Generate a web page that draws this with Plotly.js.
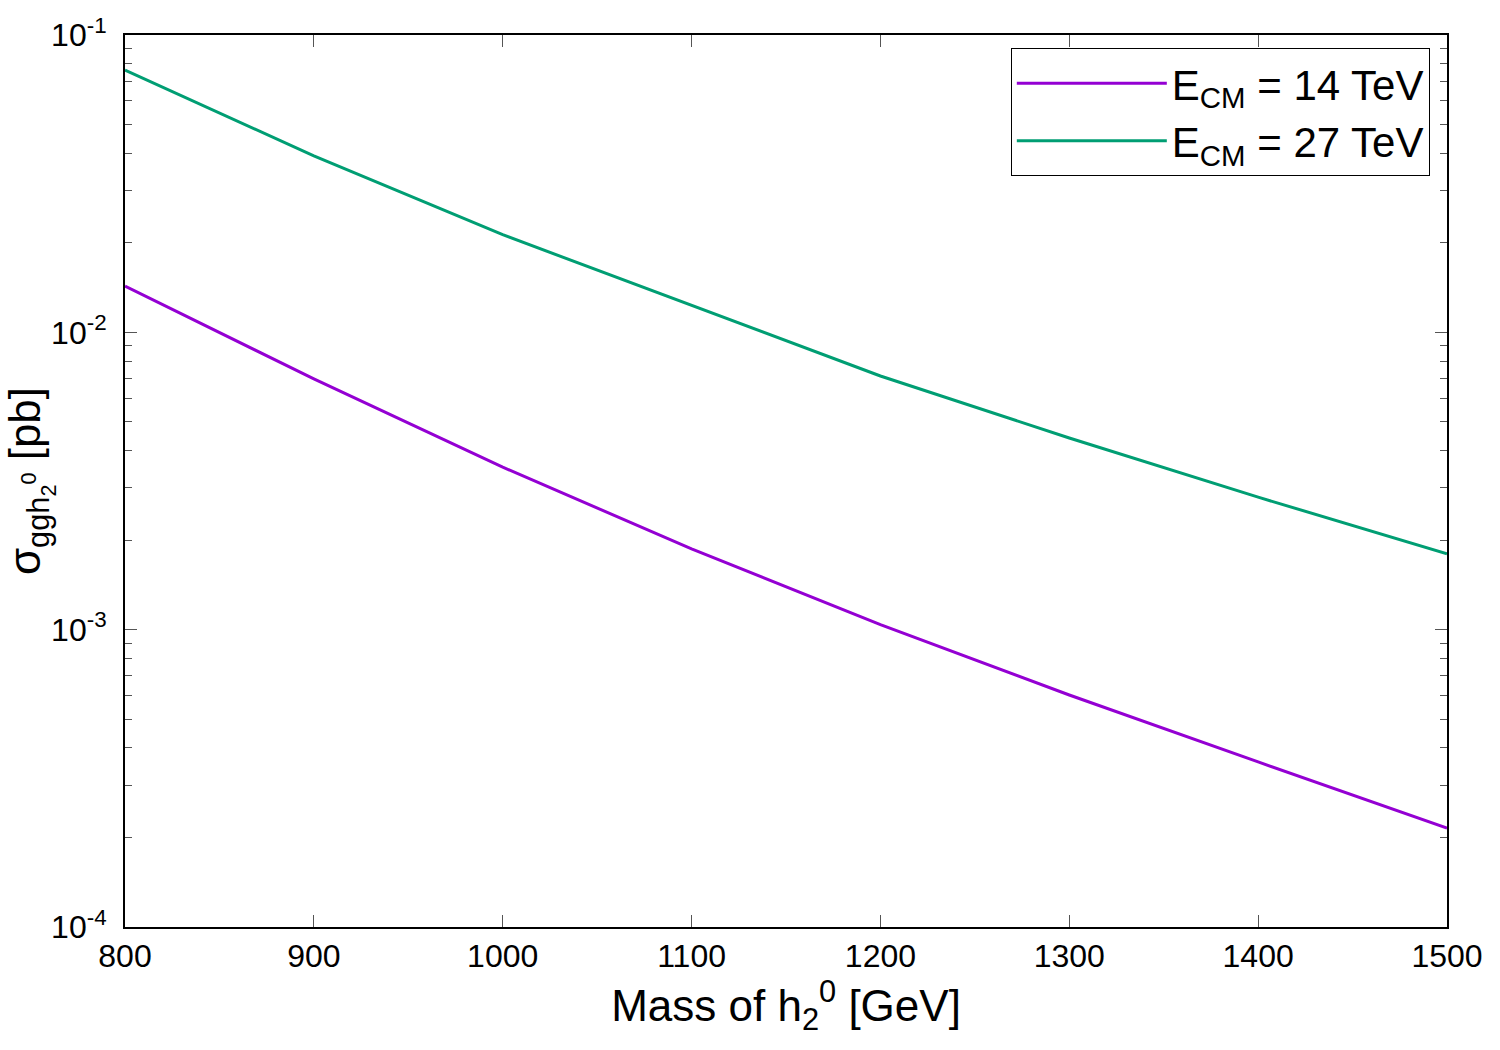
<!DOCTYPE html>
<html>
<head>
<meta charset="utf-8">
<script src="https://cdn.plot.ly/plotly-3.0.1.min.js"></script>
<style>
  html, body { margin: 0; padding: 0; background: #fff; }
  #graph { width: 1500px; height: 1050px; }
</style>
</head>
<body>
<div id="graph"></div>
<script>
// h2^0 mass points [GeV]
const mass = [800, 900, 1000, 1100, 1200, 1300, 1400, 1500];

// cross sections [pb]
const sigma14 = [0.0143, 0.00697, 0.00352, 0.00187, 0.00104, 0.000603, 0.000359, 0.000215];
const sigma27 = [0.0762, 0.0392, 0.0213, 0.01236, 0.00713, 0.00441, 0.00279, 0.00180];

const yTickVals = [1e-4, 1e-3, 1e-2, 1e-1];
const yTickText = ['10<sup>-4</sup>', '10<sup>-3</sup>', '10<sup>-2</sup>', '10<sup>-1</sup>'];

const traces = [
  {
    x: mass,
    y: sigma14,
    mode: 'lines',
    type: 'scatter',
    name: 'E<sub>CM</sub> = 14 TeV',
    line: { color: '#9400D3', width: 3 },
  },
  {
    x: mass,
    y: sigma27,
    mode: 'lines',
    type: 'scatter',
    name: 'E<sub>CM</sub> = 27 TeV',
    line: { color: '#009E73', width: 3 },
  },
];

const layout = {
  width: 1500,
  height: 1050,
  margin: { l: 125, r: 53, t: 35, b: 123 },
  paper_bgcolor: '#ffffff',
  plot_bgcolor: '#ffffff',
  font: { family: 'Liberation Sans, Arial, sans-serif', size: 32, color: '#000' },
  showlegend: true,
  legend: {
    x: 0.987,
    y: 0.985,
    xanchor: 'right',
    yanchor: 'top',
    bgcolor: '#ffffff',
    bordercolor: '#000',
    borderwidth: 1,
    font: { size: 42 },
    itemwidth: 150,
    tracegroupgap: 0,
  },
  xaxis: {
    range: [800, 1500],
    dtick: 100,
    tick0: 800,
    ticks: 'inside',
    ticklen: 12,
    tickwidth: 1,
    tickcolor: '#555',
    showline: true,
    linecolor: '#000',
    linewidth: 2,
    mirror: 'ticks',
    showgrid: false,
    zeroline: false,
    tickfont: { size: 32 },
    title: { text: 'Mass of h<sub>2</sub><sup>0</sup> [GeV]', font: { size: 44 }, standoff: 1 },
  },
  yaxis: {
    type: 'log',
    range: [-4, -1],
    tickvals: yTickVals,
    ticktext: yTickText,
    ticks: 'inside',
    ticklen: 12,
    tickwidth: 1,
    tickcolor: '#555',
    ticklabelstandoff: 10,
    minor: { ticks: 'inside', ticklen: 7, tickcolor: '#555', showgrid: false, dtick: 'D1' },
    showline: true,
    linecolor: '#000',
    linewidth: 2,
    mirror: 'ticks',
    showgrid: false,
    zeroline: false,
    tickfont: { size: 32 },
    title: { text: 'σ<sub>ggh<sub>2</sub><sup>0</sup></sub> [pb]', font: { size: 44 }, standoff: 4 },
  },
};

Plotly.newPlot('graph', traces, layout, { displayModeBar: false, staticPlot: true });
</script>
</body>
</html>
